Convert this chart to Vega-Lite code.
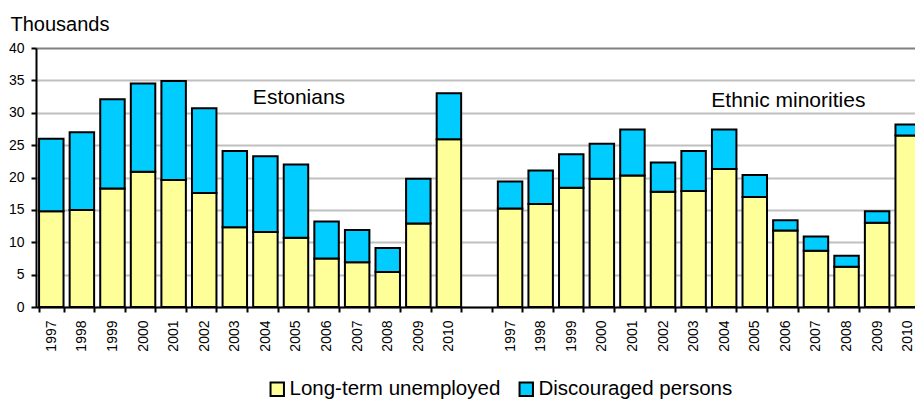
{
  "$schema": "https://vega.github.io/schema/vega-lite/v6.json",
  "width": 879,
  "height": 259,
  "autosize": {"type": "none"},
  "padding": {"left": 36, "top": 48, "right": 0, "bottom": 94},
  "background": "white",
  "config": {
    "font": "Liberation Sans",
    "view": {"stroke": null},
    "axis": {"labelColor": "black", "labelFont": "Liberation Sans", "titleFont": "Liberation Sans"}
  },
  "layer": [
    {
      "data": {
        "values": [
          {"slot": "E1997", "group": "Estonians", "year": "1997", "Long-term unemployed": 14.8, "Discouraged persons": 11.2},
          {"slot": "E1998", "group": "Estonians", "year": "1998", "Long-term unemployed": 15.0, "Discouraged persons": 12.0},
          {"slot": "E1999", "group": "Estonians", "year": "1999", "Long-term unemployed": 18.3, "Discouraged persons": 13.8},
          {"slot": "E2000", "group": "Estonians", "year": "2000", "Long-term unemployed": 20.9, "Discouraged persons": 13.6},
          {"slot": "E2001", "group": "Estonians", "year": "2001", "Long-term unemployed": 19.6, "Discouraged persons": 15.3},
          {"slot": "E2002", "group": "Estonians", "year": "2002", "Long-term unemployed": 17.6, "Discouraged persons": 13.1},
          {"slot": "E2003", "group": "Estonians", "year": "2003", "Long-term unemployed": 12.3, "Discouraged persons": 11.8},
          {"slot": "E2004", "group": "Estonians", "year": "2004", "Long-term unemployed": 11.6, "Discouraged persons": 11.7},
          {"slot": "E2005", "group": "Estonians", "year": "2005", "Long-term unemployed": 10.7, "Discouraged persons": 11.3},
          {"slot": "E2006", "group": "Estonians", "year": "2006", "Long-term unemployed": 7.5, "Discouraged persons": 5.7},
          {"slot": "E2007", "group": "Estonians", "year": "2007", "Long-term unemployed": 6.9, "Discouraged persons": 5.0},
          {"slot": "E2008", "group": "Estonians", "year": "2008", "Long-term unemployed": 5.4, "Discouraged persons": 3.7},
          {"slot": "E2009", "group": "Estonians", "year": "2009", "Long-term unemployed": 12.9, "Discouraged persons": 6.9},
          {"slot": "E2010", "group": "Estonians", "year": "2010", "Long-term unemployed": 25.9, "Discouraged persons": 7.1},
          {"slot": "M1997", "group": "Ethnic minorities", "year": "1997", "Long-term unemployed": 15.2, "Discouraged persons": 4.2},
          {"slot": "M1998", "group": "Ethnic minorities", "year": "1998", "Long-term unemployed": 15.9, "Discouraged persons": 5.2},
          {"slot": "M1999", "group": "Ethnic minorities", "year": "1999", "Long-term unemployed": 18.4, "Discouraged persons": 5.2},
          {"slot": "M2000", "group": "Ethnic minorities", "year": "2000", "Long-term unemployed": 19.8, "Discouraged persons": 5.4},
          {"slot": "M2001", "group": "Ethnic minorities", "year": "2001", "Long-term unemployed": 20.3, "Discouraged persons": 7.1},
          {"slot": "M2002", "group": "Ethnic minorities", "year": "2002", "Long-term unemployed": 17.8, "Discouraged persons": 4.5},
          {"slot": "M2003", "group": "Ethnic minorities", "year": "2003", "Long-term unemployed": 17.9, "Discouraged persons": 6.2},
          {"slot": "M2004", "group": "Ethnic minorities", "year": "2004", "Long-term unemployed": 21.3, "Discouraged persons": 6.1},
          {"slot": "M2005", "group": "Ethnic minorities", "year": "2005", "Long-term unemployed": 17.0, "Discouraged persons": 3.4},
          {"slot": "M2006", "group": "Ethnic minorities", "year": "2006", "Long-term unemployed": 11.8, "Discouraged persons": 1.6},
          {"slot": "M2007", "group": "Ethnic minorities", "year": "2007", "Long-term unemployed": 8.7, "Discouraged persons": 2.2},
          {"slot": "M2008", "group": "Ethnic minorities", "year": "2008", "Long-term unemployed": 6.2, "Discouraged persons": 1.7},
          {"slot": "M2009", "group": "Ethnic minorities", "year": "2009", "Long-term unemployed": 13.0, "Discouraged persons": 1.8},
          {"slot": "M2010", "group": "Ethnic minorities", "year": "2010", "Long-term unemployed": 26.5, "Discouraged persons": 1.7}
        ]
      },
      "transform": [{"fold": ["Long-term unemployed", "Discouraged persons"], "as": ["type", "value"]}],
      "mark": {"type": "bar", "stroke": "black", "strokeWidth": 2, "clip": true},
      "encoding": {
        "x": {
          "field": "slot",
          "type": "nominal",
          "sort": null,
          "scale": {
            "domain": ["E1997","E1998","E1999","E2000","E2001","E2002","E2003","E2004","E2005","E2006","E2007","E2008","E2009","E2010","gap","M1997","M1998","M1999","M2000","M2001","M2002","M2003","M2004","M2005","M2006","M2007","M2008","M2009","M2010"],
            "range": [0, 887],
            "paddingInner": 0.2,
            "paddingOuter": 0.1
          },
          "axis": {
            "title": null,
            "labelExpr": "isString(datum.value) && datum.value != 'gap' ? substring(datum.value, 1) : ''",
            "labelAngle": -90,
            "labelFontSize": 14,
            "labelPadding": 8,
            "tickBand": "extent",
            "tickColor": "black",
            "tickWidth": 2,
            "tickSize": 5,
            "domainColor": "black",
            "domainWidth": 2,
            "grid": false
          }
        },
        "y": {
          "field": "value",
          "type": "quantitative",
          "stack": "zero",
          "scale": {"domain": [0, 40], "nice": false},
          "axis": {
            "title": "Thousands",
            "titleAngle": 0,
            "titleX": -26,
            "titleY": -18,
            "titleAlign": "left",
            "titleBaseline": "alphabetic",
            "titleFontSize": 20,
            "titleFontWeight": "normal",
            "titleColor": "black",
            "values": [0, 5, 10, 15, 20, 25, 30, 35, 40],
            "labelOverlap": false,
            "labelFontSize": 14,
            "labelPadding": 7,
            "tickColor": "black",
            "tickWidth": 2,
            "tickSize": 5,
            "domainColor": "black",
            "domainWidth": 2,
            "grid": true,
            "gridWidth": 2,
            "gridColor": {"condition": {"test": "datum.value == 40", "value": "#808080"}, "value": "#C0C0C0"}
          }
        },
        "color": {
          "field": "type",
          "type": "nominal",
          "scale": {"domain": ["Long-term unemployed", "Discouraged persons"], "range": ["#FFFF99", "#00CCFF"]},
          "legend": {
            "title": null,
            "orient": "none",
            "direction": "horizontal",
            "legendX": 231,
            "legendY": 331,
            "padding": 0,
            "symbolType": "square",
            "symbolSize": 180,
            "symbolStrokeColor": "black",
            "symbolStrokeWidth": 2,
            "symbolOpacity": 1,
            "labelFontSize": 20.5,
            "labelColor": "black",
            "labelOffset": 2,
            "columnPadding": 14,
            "labelLimit": 400
          }
        },
        "order": {"field": "type", "sort": "descending"}
      }
    },
    {
      "data": {
        "values": [
          {"slot": "E2005", "value": 31.35, "label": "Estonians"},
          {"slot": "M2006", "value": 30.85, "label": "Ethnic minorities"}
        ]
      },
      "mark": {"type": "text", "fontSize": 21, "align": "center", "baseline": "alphabetic", "dx": 3, "color": "black"},
      "encoding": {
        "x": {
          "field": "slot",
          "type": "nominal",
          "sort": null,
          "axis": {
            "title": null,
            "labelExpr": "isString(datum.value) && datum.value != 'gap' ? substring(datum.value, 1) : ''",
            "labelAngle": -90,
            "labelFontSize": 14,
            "labelPadding": 8,
            "tickBand": "extent",
            "tickColor": "black",
            "tickWidth": 2,
            "tickSize": 5,
            "domainColor": "black",
            "domainWidth": 2,
            "grid": false
          }
        },
        "y": {
          "field": "value",
          "type": "quantitative",
          "axis": {
            "title": "Thousands",
            "titleAngle": 0,
            "titleX": -26,
            "titleY": -18,
            "titleAlign": "left",
            "titleBaseline": "alphabetic",
            "titleFontSize": 20,
            "titleFontWeight": "normal",
            "titleColor": "black",
            "values": [0, 5, 10, 15, 20, 25, 30, 35, 40],
            "labelOverlap": false,
            "labelFontSize": 14,
            "labelPadding": 7,
            "tickColor": "black",
            "tickWidth": 2,
            "tickSize": 5,
            "domainColor": "black",
            "domainWidth": 2,
            "grid": true,
            "gridWidth": 2,
            "gridColor": {"condition": {"test": "datum.value == 40", "value": "#808080"}, "value": "#C0C0C0"}
          }
        },
        "text": {"field": "label"}
      }
    }
  ]
}
